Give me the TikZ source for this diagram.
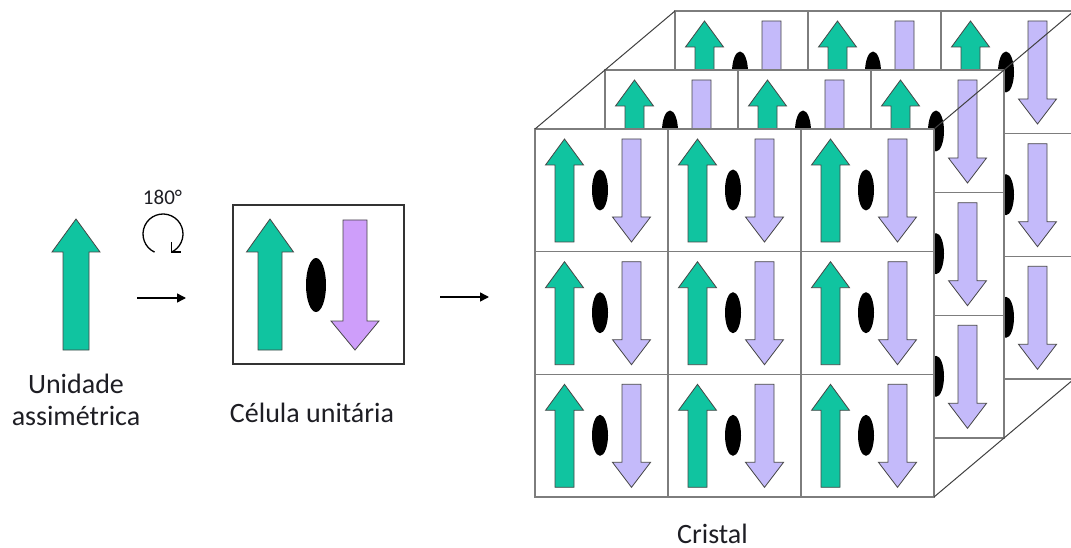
\documentclass[tikz,border=0pt]{standalone}
\usepackage{fontspec}
\setmainfont{Carlito}
\usetikzlibrary{arrows.meta}
\definecolor{cgreen}{RGB}{16,196,160}
\definecolor{clav}{RGB}{196,186,250}
\definecolor{cviolet}{RGB}{206,158,250}
\definecolor{cgrid}{RGB}{125,125,125}
\definecolor{cedge}{RGB}{70,70,70}
\definecolor{ctext}{RGB}{30,30,36}
\tikzset{
  arrowshape/.style={draw=cedge, line width=0.8pt, line join=miter},
  gridline/.style={draw=cgrid, line width=1.4pt},
  hole/.style={fill=black},
  lbl/.style={font=\fontsize{28}{33}\selectfont, text=ctext, inner sep=0pt, anchor=base},
  pointer/.style={line width=1.5pt, -{Triangle[length=9pt,width=9pt]}},
  edge3d/.style={draw=black!75, line width=1pt},
  cellbox/.style={draw=black!80, line width=1.5pt},
  turn/.style={line width=1.3pt, line join=miter},
}
\newcommand\UpArrow[7]{% cx tip base bottom shafthw headhw color
  \path[arrowshape, fill=#7] ({#1-#5},{#4}) -- ({#1-#5},{#3}) -- ({#1-#6},{#3}) -- ({#1},{#2})
    -- ({#1+#6},{#3}) -- ({#1+#5},{#3}) -- ({#1+#5},{#4}) -- cycle;}
\newcommand\DownArrow[7]{% cx top base tip shafthw headhw color
  \path[arrowshape, fill=#7] ({#1-#5},{#2}) -- ({#1-#5},{#3}) -- ({#1-#6},{#3}) -- ({#1},{#4})
    -- ({#1+#6},{#3}) -- ({#1+#5},{#3}) -- ({#1+#5},{#2}) -- cycle;}
\newcommand\CrystalCell[2]{%
  \pgfmathsetmacro\ccx{#1}\pgfmathsetmacro\ccy{#2}%
  \path[gridline, fill=white] (\ccx,\ccy) rectangle ++(133,122.67);
  \UpArrow{\ccx+29.5}{\ccy+10}{\ccy+36}{\ccy+113}{9.5}{19}{cgreen}
  \fill[hole] ({\ccx+65},{\ccy+61}) ellipse [x radius=8, y radius=20.5];
  \DownArrow{\ccx+96.5}{\ccy+10}{\ccy+88}{\ccy+113}{9.5}{19}{clav}
}
\begin{document}
\begin{tikzpicture}[x=1pt,y=-1pt]
\useasboundingbox (0,0) rectangle (1071,548);
\clip (0,0) rectangle (1071,548);
\fill[white] (0,0) rectangle (1071,548);

% asymmetric unit
\UpArrow{76}{219}{252}{350}{13}{24}{cgreen}
\node[lbl] (unitlbla) at (76,393) {Unidade};
\node[lbl] (unitlblb) at (76,425) {assimétrica};

% rotation symbol
\node[font=\fontsize{21}{24}\selectfont, text=ctext, inner sep=0pt, anchor=base] (anglbl) at (162.5,205) {180°};
\coordinate (rot) at (163,234);
\draw[turn] (rot) ++(115:20) arc[start angle=115, end angle=425, radius=20] coordinate (turnend);
\draw[turn] (turnend) ++(0,-10) -- (turnend) -- ++(10,0);

% first arrow
\coordinate (a1s) at (137,298);
\coordinate (a1e) at (186,298);
\draw[pointer] (a1s) -- (a1e);

% unit cell
\path[cellbox] (233,205) rectangle (404,364);
\UpArrow{270}{219}{252}{350}{12}{23.5}{cgreen}
\fill[hole] (316,285) ellipse [x radius=10, y radius=27];
\DownArrow{355}{220}{321}{350}{12}{24}{cviolet}
\node[lbl] (celllbl) at (312,422) {Célula unitária};

% second arrow
\coordinate (a2s) at (440,297);
\coordinate (a2e) at (489,297);
\draw[pointer] (a2s) -- (a2e);

% crystal: three layers, back to front
\foreach \l in {2,1,0}{
  \foreach \i in {0,1,2}{
    \foreach \j in {0,1,2}{
      \CrystalCell{535+\i*133+\l*70}{129+\j*122.67-\l*59}
    }}}

\coordinate (ftl) at (535,129);
\coordinate (btl) at (675,11);
\coordinate (ftr) at (934,129);
\coordinate (btr) at (1074,11);
\coordinate (fbr) at (934,497);
\coordinate (bbr) at (1074,379);
\draw[edge3d] (ftl) -- (btl);
\draw[edge3d] (ftr) -- (btr);
\draw[edge3d] (fbr) -- (bbr);

\node[lbl] (crystlbl) at (712.5,543) {Cristal};
\end{tikzpicture}
\end{document}
